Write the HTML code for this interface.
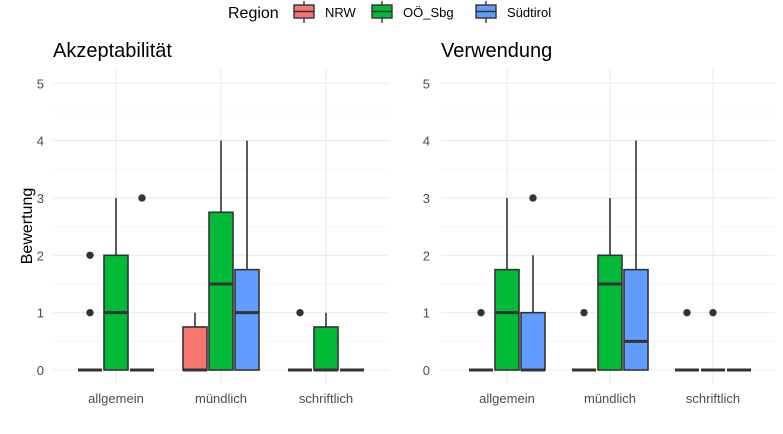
<!DOCTYPE html>
<html><head><meta charset="utf-8"><style>
body{margin:0;background:#fff;font-family:"Liberation Sans",Arial,sans-serif}
svg{display:block}
</style></head><body>
<svg id="c" width="783" height="434" xmlns="http://www.w3.org/2000/svg"></svg>
<script>
const regions=["NRW","OÖ_Sbg","Südtirol"];
const colors=["#F8766D","#00BA38","#619CFF"];
const categories=["allgemein","mündlich","schriftlich"];
const panels=["Akzeptabilität","Verwendung"];
const yTicks=[0,1,2,3,4,5];
// [category][region] = [lower, q1, median, q3, upper]
const statsAkz=[
 [[0,0,0,0,0],[0,0,1,2,3],[0,0,0,0,0]],
 [[0,0,0,0.75,1],[0,0,1.5,2.75,4],[0,0,1,1.75,4]],
 [[0,0,0,0,0],[0,0,0,0.75,1],[0,0,0,0,0]]
];
const statsVer=[
 [[0,0,0,0,0],[0,0,1,1.75,3],[0,0,0,1,2]],
 [[0,0,0,0,0],[0,0,1.5,2,3],[0,0,0.5,1.75,4]],
 [[0,0,0,0,0],[0,0,0,0,0],[0,0,0,0,0]]
];
const outAkz=[[[1,2],[],[3]],[[],[],[]],[[1],[],[]]];
const outVer=[[[1],[],[3]],[[1],[],[]],[[1],[1],[]]];

const svg=document.getElementById('c');
const NS="http://www.w3.org/2000/svg";
function el(t,a,p){const e=document.createElementNS(NS,t);for(const k in a)e.setAttribute(k,a[k]);(p||svg).appendChild(e);return e;}
const y=v=>370-v*57.35;
const panelDefs=[{x0:53,x1:389,lx:44,centers:[116,221,326],stats:statsAkz,outs:outAkz},{x0:441,x1:775,lx:430,centers:[507,610,713],stats:statsVer,outs:outVer}];
panelDefs.forEach((P,pi)=>{
  const g=el('g',{});
  
  
  for(let i=0;i<5;i++){el('line',{x1:P.x0,x2:P.x1,y1:y(i+0.5),y2:y(i+0.5),stroke:'#f2f2f2','stroke-width':0.6},g);}
  yTicks.forEach(t=>{
    const l=el('line',{x1:P.x0,x2:P.x1,y1:y(t),y2:y(t),stroke:'#ebebeb','stroke-width':1.1},g);
    
    const tx=el('text',{x:P.lx,y:y(t)+5,'text-anchor':'end','font-size':13,fill:'#4d4d4d'},g);
    tx.textContent=t;
    
  });
  P.centers.forEach((cx,ci)=>{
    el('line',{x1:cx,x2:cx,y1:68,y2:384,stroke:'#ebebeb','stroke-width':1.1},g);
    const tx=el('text',{x:cx,y:403,'text-anchor':'middle','font-size':13,fill:'#4d4d4d'},g);
    tx.textContent=categories[ci];
    
  });
  const title=el('text',{x:P.x0,y:57,'font-size':20,fill:'#000'},g);
  title.textContent=panels[pi];
  
  P.centers.forEach((cx,ci)=>{
    regions.forEach((r,ri)=>{
      const s=P.stats[ci][ri];const bx=cx+(ri-1)*26;const w=24;
      const bg=el('g',{},g);
      
      el('line',{x1:bx,x2:bx,y1:y(s[4]),y2:y(s[3]),stroke:'#333','stroke-width':1.6},bg);
      el('line',{x1:bx,x2:bx,y1:y(s[1]),y2:y(s[0]),stroke:'#333','stroke-width':1.6},bg);
      el('rect',{x:bx-w/2,y:y(s[3]),width:w,height:Math.max(0,y(s[1])-y(s[3])),fill:colors[ri],stroke:'#333','stroke-width':1.6},bg);
      el('line',{x1:bx-w/2,x2:bx+w/2,y1:y(s[2]),y2:y(s[2]),stroke:'#333','stroke-width':3},bg);
      P.outs[ci][ri].forEach(o=>{
        const c=el('circle',{cx:bx,cy:y(o),r:3.7,fill:'#333'},bg);
        
      });
    });
  });
});
const yl=el('text',{x:32,y:226,'text-anchor':'middle','font-size':16,fill:'#000',transform:'rotate(-90 32 226)'});
yl.textContent='Bewertung';

const lg=el('g',{});

const lt=el('text',{x:228,y:18,'font-size':16,fill:'#000'},lg);lt.textContent='Region';
const kx=[294,372,476];
regions.forEach((r,ri)=>{
  const e=el('g',{},lg);
  
  el('line',{x1:kx[ri]+10,x2:kx[ri]+10,y1:1,y2:23,stroke:'#333','stroke-width':1.4},e);
  el('rect',{x:kx[ri],y:5,width:20,height:13,fill:colors[ri],stroke:'#333','stroke-width':1.4},e);
  el('line',{x1:kx[ri],x2:kx[ri]+20,y1:11.5,y2:11.5,stroke:'#333','stroke-width':1.6},e);
  const t=el('text',{x:kx[ri]+31,y:17,'font-size':13,fill:'#000'},e);t.textContent=r;
});
</script>
</body></html>
